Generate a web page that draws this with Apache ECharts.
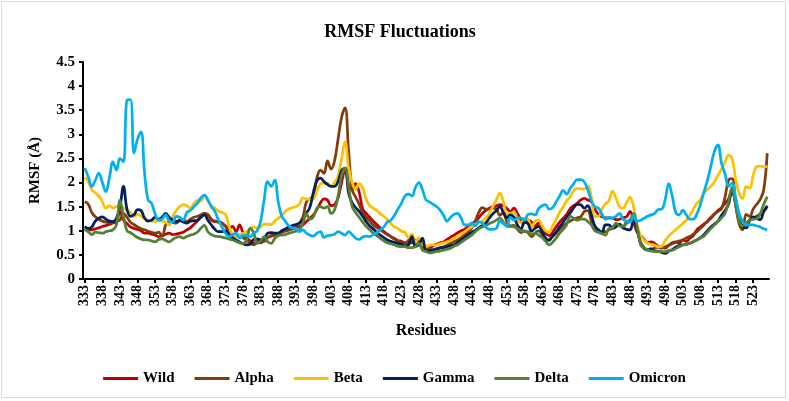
<!DOCTYPE html>
<html><head><meta charset="utf-8">
<script src="https://cdn.jsdelivr.net/npm/echarts@6/dist/echarts.min.js"></script>
<style>html,body{margin:0;padding:0;background:#fff}#c{width:789px;height:401px}</style>
</head><body><div id="c"></div>
<script>
const startResidue = 333, endResidue = 527;
const residues = [];
for (let r = startResidue; r <= endResidue; r++) residues.push(String(r));

const wild = [1.05,1.02,1.02,1.04,1.06,1.09,1.11,1.13,1.16,1.18,1.40,1.22,1.15,1.08,1.05,1.03,1.00,0.95,0.95,0.93,0.91,0.88,0.90,0.93,0.95,0.92,0.93,0.95,0.97,1.02,1.06,1.13,1.20,1.28,1.36,1.33,1.22,1.19,1.19,1.16,1.10,1.05,1.09,0.98,1.12,0.96,0.86,0.79,0.74,0.77,0.75,0.80,0.86,0.89,0.91,0.94,0.97,1.00,1.02,1.04,1.06,1.09,1.12,1.19,1.26,1.33,1.44,1.58,1.66,1.64,1.52,1.54,1.68,2.00,2.26,1.95,1.85,1.98,1.80,1.45,1.36,1.28,1.20,1.13,1.06,0.99,0.93,0.88,0.84,0.80,0.78,0.75,0.77,0.75,0.81,0.74,0.66,0.61,0.64,0.69,0.72,0.75,0.77,0.82,0.87,0.91,0.96,1.00,1.03,1.10,1.15,1.19,1.27,1.36,1.42,1.47,1.50,1.52,1.54,1.52,1.46,1.40,1.47,1.36,1.22,1.16,1.22,1.18,1.09,1.16,1.10,0.95,0.90,0.98,1.08,1.18,1.26,1.34,1.46,1.52,1.57,1.64,1.67,1.64,1.60,1.45,1.34,1.29,1.27,1.26,1.26,1.23,1.24,1.27,1.29,1.40,1.20,0.97,0.90,0.82,0.75,0.77,0.74,0.68,0.67,0.64,0.70,0.75,0.77,0.74,0.81,0.78,0.85,0.90,1.02,1.08,1.14,1.19,1.26,1.34,1.42,1.48,1.57,1.66,1.85,1.55,1.20,1.10,1.15,1.22,1.26,1.30,1.35,1.40,1.50];
const alpha = [1.60,1.55,1.38,1.29,1.24,1.20,1.18,1.16,1.18,1.20,1.22,1.36,1.28,1.18,1.13,1.08,1.04,1.02,0.99,0.97,0.95,0.97,0.89,1.12,1.18,1.17,1.16,1.21,1.22,1.19,1.24,1.28,1.30,1.33,1.36,1.33,1.24,1.20,1.18,1.16,1.09,0.96,0.89,0.89,0.91,0.86,0.80,0.75,0.71,0.76,0.81,0.78,0.86,0.90,0.92,0.95,0.97,0.99,1.02,1.07,1.11,1.16,1.28,1.60,1.66,1.72,2.10,2.26,2.19,2.45,2.28,2.45,2.90,3.35,3.55,2.65,1.85,1.70,1.55,1.38,1.28,1.20,1.12,1.07,1.02,0.97,0.92,0.88,0.83,0.79,0.75,0.71,0.80,0.88,0.72,0.80,0.66,0.63,0.61,0.61,0.63,0.65,0.67,0.70,0.74,0.78,0.81,0.86,0.92,0.98,1.06,1.20,1.38,1.48,1.45,1.45,1.47,1.45,1.32,1.38,1.18,1.10,1.11,1.03,0.96,1.00,0.96,0.88,0.95,1.00,0.92,0.80,0.82,0.88,0.95,1.03,1.10,1.16,1.20,1.24,1.27,1.29,1.40,1.42,1.20,1.05,1.00,0.98,0.98,1.02,1.06,1.14,1.12,1.09,1.18,1.22,1.28,1.02,0.76,0.65,0.61,0.61,0.64,0.66,0.64,0.67,0.70,0.73,0.76,0.79,0.81,0.85,0.88,0.93,0.98,1.05,1.12,1.20,1.28,1.35,1.40,1.46,1.70,2.05,2.08,1.55,1.15,1.02,1.34,1.30,1.45,1.55,1.65,1.85,2.61];
const beta = [2.11,2.02,1.85,1.79,1.72,1.60,1.47,1.52,1.47,1.50,1.50,1.48,1.42,1.38,1.30,1.34,1.30,1.26,1.22,1.20,1.19,1.22,1.20,1.18,1.12,1.30,1.42,1.50,1.54,1.52,1.47,1.56,1.63,1.62,1.74,1.62,1.52,1.47,1.41,1.38,1.34,1.10,0.92,0.88,0.92,0.95,0.98,1.04,1.08,1.06,1.08,1.14,1.14,1.13,1.20,1.26,1.32,1.40,1.45,1.48,1.50,1.55,1.68,1.66,1.65,1.66,1.83,1.97,1.99,1.98,1.93,2.00,2.14,2.50,2.85,2.30,2.00,1.86,1.98,1.90,1.65,1.52,1.47,1.42,1.35,1.30,1.23,1.15,1.08,1.05,0.99,0.97,0.86,0.93,0.76,0.86,0.72,0.68,0.70,0.71,0.71,0.73,0.75,0.77,0.80,0.84,0.88,0.93,0.98,1.04,1.08,1.13,1.17,1.20,1.26,1.36,1.50,1.64,1.78,1.60,1.35,1.36,1.38,1.24,1.16,1.26,1.24,1.06,1.20,1.22,1.10,1.00,0.97,1.10,1.24,1.38,1.50,1.62,1.71,1.84,1.88,1.87,1.87,1.93,1.70,1.30,1.30,1.45,1.56,1.62,1.82,1.68,1.50,1.47,1.58,1.70,1.50,1.12,0.90,0.80,0.74,0.72,0.70,0.67,0.68,0.80,0.89,0.96,1.02,1.09,1.15,1.22,1.32,1.45,1.57,1.65,1.78,1.86,1.92,2.02,2.15,2.28,2.42,2.57,2.50,2.08,1.78,1.67,1.92,1.88,2.15,2.33,2.34,2.33,2.33];
const gamma = [1.09,1.05,1.08,1.20,1.26,1.29,1.24,1.20,1.19,1.26,1.50,1.92,1.45,1.30,1.33,1.44,1.42,1.26,1.20,1.22,1.28,1.24,1.28,1.36,1.28,1.22,1.19,1.22,1.18,1.16,1.20,1.21,1.22,1.28,1.33,1.22,1.12,1.03,0.98,0.98,1.00,0.92,0.86,0.81,0.77,0.73,0.71,0.72,0.82,0.83,0.81,0.84,0.95,0.96,0.95,0.95,1.00,1.04,1.08,1.11,1.13,1.16,1.22,1.36,1.49,1.80,2.04,2.09,2.02,1.96,1.92,1.92,2.02,2.25,2.30,1.78,1.58,1.48,1.40,1.30,1.19,1.10,1.04,0.97,0.91,0.86,0.81,0.78,0.76,0.74,0.72,0.68,0.70,0.88,0.67,0.72,0.85,0.58,0.59,0.60,0.62,0.64,0.65,0.67,0.69,0.71,0.76,0.81,0.86,0.92,0.97,1.01,1.06,1.11,1.16,1.26,1.35,1.42,1.50,1.38,1.27,1.33,1.28,1.12,1.03,1.18,1.15,0.99,1.05,1.09,0.98,0.85,0.80,0.90,0.98,1.08,1.18,1.28,1.37,1.48,1.55,1.54,1.47,1.52,1.33,1.10,1.02,0.96,1.12,1.12,1.05,1.08,1.14,1.06,1.03,1.02,1.20,1.05,0.72,0.63,0.60,0.63,0.58,0.58,0.55,0.53,0.58,0.61,0.66,0.69,0.71,0.72,0.74,0.77,0.81,0.86,0.92,1.00,1.08,1.14,1.20,1.32,1.42,1.55,1.82,1.60,1.25,1.08,1.06,1.22,1.29,1.26,1.23,1.40,1.52];
const delta = [1.02,0.98,0.92,0.97,0.96,0.95,0.98,1.00,1.02,1.12,1.63,1.30,1.00,0.96,0.91,0.86,0.83,0.81,0.81,0.79,0.77,0.82,0.83,0.80,0.77,0.82,0.86,0.88,0.85,0.88,0.91,0.93,0.97,1.05,1.11,0.98,0.92,0.89,0.88,0.87,0.85,0.83,0.81,0.78,0.75,0.74,0.80,1.05,0.96,0.74,0.79,0.88,0.77,0.74,0.84,0.90,0.91,0.92,0.95,0.97,0.99,1.02,1.16,1.36,1.24,1.29,1.47,1.50,1.47,1.50,1.36,1.43,1.72,2.15,2.30,1.92,1.50,1.38,1.28,1.18,1.09,1.02,0.95,0.90,0.84,0.79,0.75,0.73,0.71,0.68,0.67,0.67,0.65,0.65,0.67,0.74,0.60,0.57,0.54,0.55,0.57,0.58,0.60,0.62,0.64,0.68,0.71,0.76,0.81,0.86,0.91,0.98,1.04,1.08,1.11,1.15,1.18,1.22,1.26,1.18,1.09,1.09,1.08,1.05,1.00,0.98,0.98,0.92,0.95,0.91,0.86,0.78,0.71,0.76,0.85,0.95,1.03,1.13,1.30,1.26,1.22,1.24,1.24,1.19,1.12,1.00,0.97,0.94,0.91,1.05,1.06,1.16,1.10,1.09,1.15,1.22,1.36,1.10,0.72,0.64,0.60,0.58,0.57,0.57,0.57,0.57,0.59,0.60,0.63,0.67,0.70,0.72,0.74,0.78,0.81,0.85,0.89,0.97,1.05,1.12,1.19,1.27,1.36,1.60,1.90,1.55,1.20,1.10,1.14,1.22,1.24,1.25,1.35,1.55,1.71];
const omicron = [2.30,2.12,1.92,2.05,2.19,2.00,1.81,2.10,2.43,2.26,2.50,2.43,3.71,3.72,2.61,2.90,3.05,2.20,1.64,1.57,1.35,1.22,1.24,1.33,1.20,1.18,1.30,1.28,1.22,1.38,1.42,1.50,1.57,1.68,1.74,1.64,1.50,1.40,1.22,1.08,0.95,0.88,0.92,0.95,0.85,0.90,0.91,0.88,0.95,1.00,1.20,1.65,2.02,1.92,2.05,1.60,1.30,1.20,1.10,1.06,1.05,0.98,1.02,0.95,0.91,0.89,0.95,0.98,0.86,0.90,0.91,0.93,0.98,0.95,0.91,0.98,0.92,0.85,0.82,0.87,0.89,0.88,0.92,0.96,1.02,1.08,1.18,1.22,1.32,1.45,1.57,1.72,1.76,1.72,1.90,2.00,1.85,1.64,1.60,1.55,1.50,1.43,1.32,1.20,1.28,1.34,1.36,1.26,1.12,1.12,1.16,1.10,1.19,1.16,1.08,1.03,1.03,1.05,1.20,1.15,1.10,1.28,1.22,1.27,1.27,1.22,1.34,1.35,1.33,1.46,1.52,1.54,1.45,1.48,1.60,1.72,1.84,1.76,1.88,1.98,2.06,2.06,2.01,1.85,1.62,1.50,1.47,1.35,1.24,1.28,1.27,1.30,1.36,1.24,1.20,1.18,1.32,1.20,1.22,1.26,1.30,1.33,1.36,1.44,1.45,1.65,1.98,1.72,1.38,1.33,1.43,1.33,1.24,1.24,1.35,1.55,1.80,2.05,2.35,2.65,2.78,2.40,2.18,1.92,1.99,1.70,1.36,1.19,1.13,1.12,1.12,1.10,1.08,1.04,1.02];

const seriesNames = ['Wild','Alpha','Beta','Gamma','Delta','Omicron'];
const seriesData = [wild, alpha, beta, gamma, delta, omicron];
const seriesColors = ['#C00000','#843C0C','#FFC000','#002060','#548235','#00B0F0'];

const FONT = '"Liberation Serif","Times New Roman",serif';
const chart = echarts.init(document.getElementById('c'), null, {renderer:'canvas'});
chart.setOption({
  backgroundColor:'#fff',
  animation:false,
  title:{text:'RMSF Fluctuations', left:395, top:18, textAlign:'center',
    textStyle:{fontFamily:FONT, fontWeight:'bold', fontSize:18, color:'#000'}},
  graphic:[{type:'rect', shape:{x:1.5,y:1.5,width:784,height:396}, style:{fill:'none', stroke:'#d9d9d9', lineWidth:1}, silent:true}],
  legend:{data:seriesNames, left:'center', top:366, itemWidth:35, itemHeight:3, itemGap:20, icon:'rect',
    textStyle:{fontFamily:FONT, fontWeight:'bold', fontSize:15, color:'#000'}},
  grid:{left:83, right:20, top:62, bottom:122, containLabel:false},
  xAxis:{type:'category', data:residues, boundaryGap:true,
    name:'Residues', nameLocation:'middle', nameGap:44,
    nameTextStyle:{fontFamily:FONT, fontWeight:'bold', fontSize:16, color:'#000'},
    axisLine:{lineStyle:{color:'#000', width:2}},
    axisTick:{show:true, interval:4, alignWithLabel:true, length:4, lineStyle:{color:'#000', width:2}},
    axisLabel:{interval:4, rotate:90, fontFamily:FONT, fontWeight:'bold', fontSize:14, color:'#000', margin:6},
    splitLine:{show:false}},
  yAxis:{type:'value', min:0, max:4.5, interval:0.5,
    name:'RMSF (Å)', nameLocation:'middle', nameGap:40, nameRotate:90,
    nameTextStyle:{fontFamily:FONT, fontWeight:'bold', fontSize:15, color:'#000'},
    axisLine:{show:true, lineStyle:{color:'#000', width:2}},
    axisTick:{show:true, length:4, lineStyle:{color:'#000', width:2}},
    axisLabel:{fontFamily:FONT, fontWeight:'bold', fontSize:15, color:'#000', margin:8,
      formatter:v=>String(v)},
    splitLine:{show:false}},
  series: seriesNames.map((n,i)=>({
    name:n, type:'line', data:seriesData[i], smooth:0.4, showSymbol:false, symbol:'none',
    lineStyle:{color:seriesColors[i], width:2.75}, itemStyle:{color:seriesColors[i]}, z:2+i
  }))
});
</script></body></html>
